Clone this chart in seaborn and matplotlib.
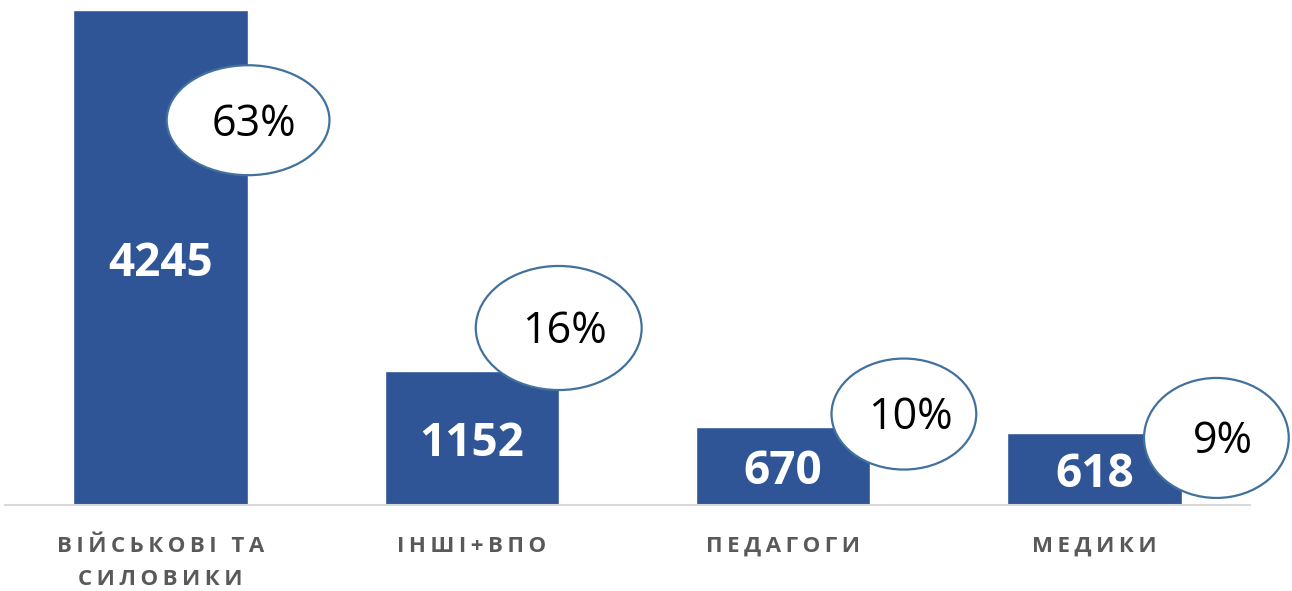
import matplotlib
matplotlib.use("Agg")
import matplotlib.pyplot as plt
from matplotlib.patches import Ellipse
import seaborn as sns
import pandas as pd

categories = ["ВІЙСЬКОВІ ТА\nСИЛОВИКИ", "ІНШІ+ВПО", "ПЕДАГОГИ", "МЕДИКИ"]
values = [4245, 1152, 670, 618]
shares = ["63%", "16%", "10%", "9%"]

BAR = "#2F5597"
EDGE = "#41719C"
GRAY = "#595959"

sns.set_theme(style="white")
plt.rcParams["font.family"] = ["Open Sans", "DejaVu Sans"]

W, H = 1292, 591
fig = plt.figure(figsize=(W / 100, H / 100), dpi=100)
ax = fig.add_axes([5 / W, 86 / H, 1245 / W, 505 / H])

df = pd.DataFrame({"cat": categories, "val": values})
sns.barplot(data=df, x="cat", y="val", color=BAR, saturation=1, width=0.56, ax=ax)

ax.set_xlim(-0.5, 3.5)
ax.set_ylim(0, 4331)
ax.set_xlabel("")
ax.set_ylabel("")
ax.set_yticks([])
for s in ["top", "right", "left"]:
    ax.spines[s].set_visible(False)
ax.spines["bottom"].set_color("#D9D9D9")
ax.spines["bottom"].set_linewidth(1.5)

def spaced(t):
    return "\n".join("\u2009".join(list(line)) for line in t.split("\n"))

ax.set_xticks(range(len(categories)))
ax.set_xticklabels([spaced(c) for c in categories], fontsize=16, fontweight="bold",
                   color=GRAY, linespacing=1.8)
ax.tick_params(axis="x", length=0, pad=22)
for lbl in ax.get_xticklabels():
    lbl.set_verticalalignment("top")

# value labels inside bars
for i, v in enumerate(values):
    ax.annotate(str(v), (i, v / 2), xytext=(0, -4), textcoords="offset points",
                ha="center", va="center", color="white",
                fontsize=33, fontweight="bold")

# callout ellipses with shares (layout: dx, y-centre, width, height in data units)
callout_layout = [(0.281, 3300, 0.523, 943),
                  (0.279, 1518, 0.533, 1064),
                  (0.388, 780, 0.465, 952),
                  (0.392, 575, 0.465, 1029)]
for i, (s, (dx, cy, w, h)) in enumerate(zip(shares, callout_layout)):
    e = Ellipse((i + dx, cy), w, h, facecolor="white", edgecolor=EDGE,
                linewidth=1.6, clip_on=False, zorder=5)
    ax.add_patch(e)
    ax.annotate(s, (i + dx + 0.02, cy), xytext=(0, -3), textcoords="offset points",
                ha="center", va="center", fontsize=31,
                color="black", zorder=6, annotation_clip=False)

fig.savefig("out.png", dpi=100)
